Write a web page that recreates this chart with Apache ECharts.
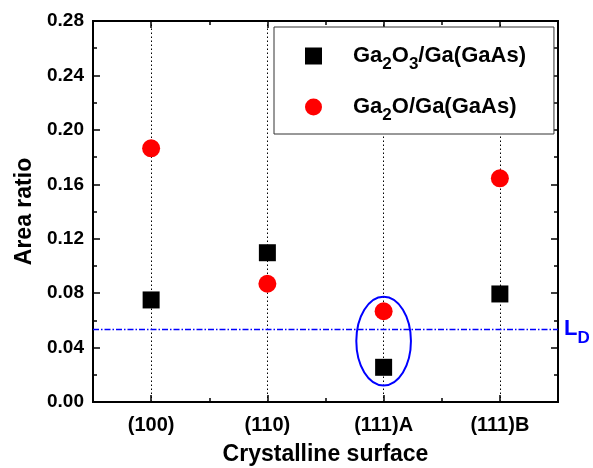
<!DOCTYPE html>
<html>
<head>
<meta charset="utf-8">
<script src="https://cdn.jsdelivr.net/npm/echarts@6/dist/echarts.min.js"></script>
<style>html,body{margin:0;padding:0;background:#fff}#c{width:593px;height:468px}</style>
</head>
<body>
<div id="c"></div>
<script>
const categories = ['(100)', '(110)', '(111)A', '(111)B'];
const ga2o3 = [0.075, 0.1097, 0.0255, 0.0794];
const ga2o = [0.1864, 0.0869, 0.0667, 0.1644];
const ldValue = 0.0534;
const yTicks = { min: 0, max: 0.28, interval: 0.04 };
// ellipse around (111)A: [category, centre value, half-width (category units), half-height (value units)]
const ellipseMark = ['(111)A', 0.0448, 0.235, 0.0326];

const FONT = '"Liberation Sans", Arial, sans-serif';
const chart = echarts.init(document.getElementById('c'));

const subFmt = {
  'Ga2O3/Ga(GaAs)': '{sp| }{a|Ga}{s|2}{a|O}{s|3}{a|/Ga(GaAs)}',
  'Ga2O/Ga(GaAs)': '{sp| }{a|Ga}{s|2}{a|O/Ga(GaAs)}'
};

const catAxisBase = {
  type: 'category', data: categories, boundaryGap: true,
  axisLine: { show: true, lineStyle: { color: '#000', width: 2 } },
  splitLine: { show: false }
};
const valAxisBase = {
  type: 'value', min: yTicks.min, max: yTicks.max, interval: yTicks.interval,
  axisLine: { show: true, lineStyle: { color: '#000', width: 2 } },
  axisTick: { show: true, inside: true, length: 7, lineStyle: { color: '#000', width: 1.5 } },
  minorTick: { show: true, splitNumber: 2, length: 4, lineStyle: { color: '#000', width: 1.5 } },
  splitLine: { show: false }
};

chart.setOption({
  animation: false,
  backgroundColor: '#fff',
  textStyle: { fontFamily: FONT },
  grid: { left: 93, right: 35, top: 21, bottom: 66, containLabel: false, outerBoundsMode: 'none' },
  xAxis: [
    Object.assign({}, catAxisBase, {
      position: 'bottom',
      axisTick: { show: true, inside: true, alignWithLabel: true, length: 7, lineStyle: { color: '#000', width: 1.5 } },
      axisLabel: { margin: 13, fontSize: 20, fontWeight: 'bold', color: '#000', fontFamily: FONT },
      name: 'Crystalline surface', nameLocation: 'middle', nameGap: 41,
      nameTextStyle: { fontSize: 23, fontWeight: 'bold', color: '#000', fontFamily: FONT }
    }),
    Object.assign({}, catAxisBase, {
      position: 'bottom',
      axisTick: { show: true, inside: true, alignWithLabel: false, length: 4, lineStyle: { color: '#000', width: 1.5 } },
      axisLabel: { show: false }
    }),
    Object.assign({}, catAxisBase, {
      position: 'top',
      axisTick: { show: true, inside: true, alignWithLabel: true, length: 7, lineStyle: { color: '#000', width: 1.5 } },
      axisLabel: { show: false }
    }),
    Object.assign({}, catAxisBase, {
      position: 'top',
      axisTick: { show: true, inside: true, alignWithLabel: false, length: 4, lineStyle: { color: '#000', width: 1.5 } },
      axisLabel: { show: false }
    })
  ],
  yAxis: [
    Object.assign({}, valAxisBase, {
      position: 'left',
      axisLabel: { margin: 9, fontSize: 19, fontWeight: 'bold', color: '#000', fontFamily: FONT,
        formatter: v => v.toFixed(2) },
      name: 'Area ratio', nameLocation: 'middle', nameGap: 55,
      nameTextStyle: { fontSize: 23, fontWeight: 'bold', color: '#000', fontFamily: FONT }
    }),
    Object.assign({}, valAxisBase, {
      position: 'right',
      axisLabel: { show: false }
    })
  ],
  legend: {
    orient: 'vertical', left: 274, top: 27,
    padding: [18, 28, 10, 31], itemGap: 23,
    itemWidth: 17, itemHeight: 17,
    backgroundColor: '#fff', borderColor: '#333', borderWidth: 1, borderRadius: 0,
    selectedMode: false,
    data: ['Ga2O3/Ga(GaAs)', 'Ga2O/Ga(GaAs)'],
    formatter: n => subFmt[n],
    textStyle: {
      color: '#000', fontFamily: FONT,
      rich: {
        sp: { width: 26, fontSize: 22 },
        a: { fontSize: 22, fontWeight: 'bold', color: '#000', fontFamily: FONT },
        s: { fontSize: 17, fontWeight: 'bold', color: '#000', fontFamily: FONT, padding: [17, 0, 0, 0] }
      }
    }
  },
  series: [
    {
      name: 'Ga2O3/Ga(GaAs)', type: 'scatter', z: 3,
      symbol: 'rect', symbolSize: 17,
      itemStyle: { color: '#000', opacity: 1 },
      data: categories.map((c, i) => [c, ga2o3[i]]),
      markLine: {
        silent: true, z: 1, symbol: 'none', animation: false,
        label: { show: false },
        lineStyle: { type: [1.5, 2.5], color: '#000', width: 1 },
        data: categories.map(c => ({ xAxis: c }))
      }
    },
    {
      name: 'Ga2O/Ga(GaAs)', type: 'scatter', z: 3,
      symbol: 'circle', symbolSize: 18,
      itemStyle: { color: '#ff0000', opacity: 1 },
      data: categories.map((c, i) => [c, ga2o[i]]),
      markLine: {
        silent: true, z: 2, symbol: 'none', animation: false, precision: 4,
        lineStyle: { type: [6, 2, 1.5, 2], color: '#0000ff', width: 1.3, opacity: 1 },
        label: {
          show: true, position: 'end', distance: 6,
          formatter: '{l|L}{d|D}',
          rich: {
            l: { fontSize: 22, fontWeight: 'bold', color: '#0000ff', fontFamily: FONT },
            d: { fontSize: 17, fontWeight: 'bold', color: '#0000ff', fontFamily: FONT, padding: [18, 0, 0, 0] }
          }
        },
        data: [{ yAxis: ldValue, lineStyle: { color: '#0000ff' } }]
      }
    },
    {
      name: 'ellipse', type: 'custom', z: 2, silent: true,
      data: [[categories.indexOf(ellipseMark[0]), ellipseMark[1], ellipseMark[2], ellipseMark[3]]],
      renderItem: (params, api) => {
        const c = api.coord([api.value(0), api.value(1)]);
        const s = api.size([1, api.value(3)]);
        return {
          type: 'ellipse',
          shape: { cx: c[0], cy: c[1], rx: s[0] * api.value(2), ry: s[1] },
          style: { fill: 'none', stroke: '#0000ff', lineWidth: 2 }
        };
      }
    }
  ]
});
</script>
</body>
</html>
